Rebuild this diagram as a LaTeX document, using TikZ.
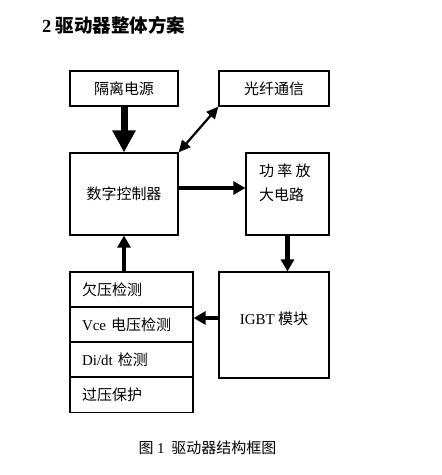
\documentclass[tikz,border=0pt]{standalone}
\usepackage{fontspec}
\setmainfont{Noto Sans CJK SC}
\newfontfamily\latin{Liberation Serif}
\usepackage{tikz}
\usetikzlibrary{arrows.meta}
\tikzstyle{block}=[draw, line width=1.2pt, inner sep=0pt, font=\fontsize{15}{24}\selectfont]
\tikzstyle{row}=[block, minimum height=35pt, text width=99pt, inner xsep=12pt, align=left]
\tikzstyle{fat arrow}=[line width=7pt, -{Triangle[length=22pt,width=22pt]}]
\tikzstyle{basic arrow}=[line width=4.5pt, -{Triangle[length=12pt,width=13pt]}]
\tikzstyle{link arrow}=[line width=2.2pt, {Triangle[length=12pt,width=11pt]}-{Triangle[length=12pt,width=11pt]}]

\begin{document}
\begin{tikzpicture}[x=1pt, y=-1pt]
		\useasboundingbox (0, 0) rectangle (442, 475);

		\node [anchor=west, inner sep=0pt, font=\fontsize{18.5}{22}\selectfont\bfseries] (title) at (42, 25) {{\latin 2} 驱动器整体方案};

		\node [block, minimum width=108pt, minimum height=35pt] (iso) at (124, 88.5) {隔离电源};
		\node [block, minimum width=110pt, minimum height=35pt] (fiber) at (274, 88.5) {光纤通信};
		\node [block, minimum width=108pt, minimum height=82pt] (ctrl) at (124, 194) {数字控制器};
		\node [block, minimum width=83pt, minimum height=82pt] (amp) at (287.5, 194) {\parbox[t][60pt][t]{57pt}{功 率 放\\大电路}};
		\node [block, minimum width=110pt, minimum height=106pt] (igbt) at (274, 325) {\raisebox{13pt}{{\latin IGBT} 模块}};

		\node [row] (r1) at (131.5, 289.5) {欠压检测};
		\node [row] (r2) at (131.5, 324.5) {{\latin Vce} 电压检测};
		\node [row] (r3) at (131.5, 359.5) {{\latin Di/dt} 检测};
		\node [row] (r4) at (131.5, 395) {过压保护};

		\node [font=\fontsize{15}{17}\selectfont] (caption) at (207.5, 448) {图 {\latin 1}\ \ 驱动器结构框图};

		\coordinate (c1) at ([yshift=6pt]ctrl.east);
		\coordinate (c2) at ([yshift=7pt]igbt.west);

		\draw [style=fat arrow] (iso.south) to (ctrl.north);
		\draw [style=link arrow] (fiber.south west) to (ctrl.north east);
		\draw [style=basic arrow] (c1) to (c1 -| amp.west);
		\draw [style=basic arrow] (amp.south) to (amp.south |- igbt.north);
		\draw [style=basic arrow] (c2) to (c2 -| r2.east);
		\draw [style=basic arrow] (ctrl.south |- r1.north) to (ctrl.south);

\end{tikzpicture}
\end{document}
